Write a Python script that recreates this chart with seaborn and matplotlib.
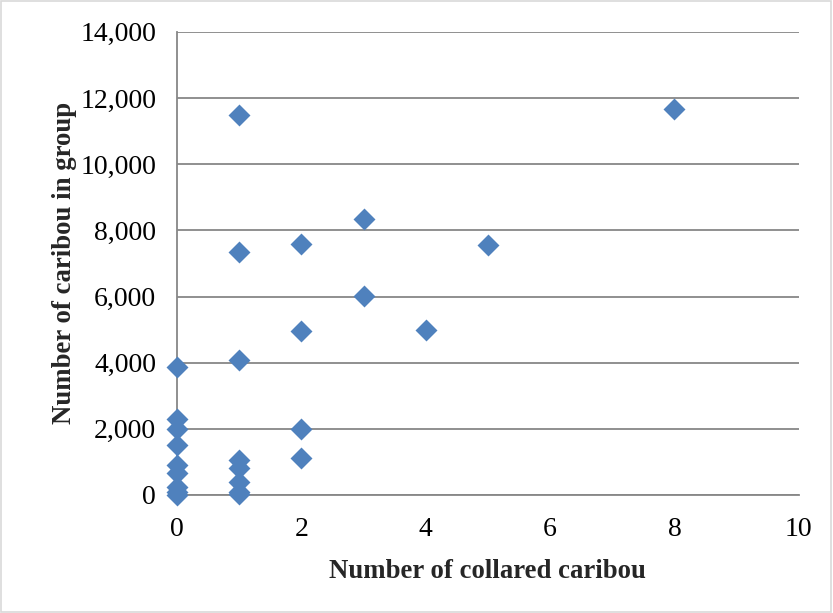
import matplotlib
matplotlib.use("Agg")
import matplotlib.pyplot as plt
import seaborn as sns
import pandas as pd
from matplotlib.patches import Rectangle
from matplotlib.ticker import FuncFormatter

# ---------------------------------------------------
# Data
# ---------------------------------------------------

collared = [0, 0, 0, 0, 0, 0, 0, 0, 0,
            1, 1, 1, 1, 1, 1, 1, 1,
            2, 2, 2, 2,
            3, 3, 4, 5, 8]

group_size = [3880, 2300, 2000, 1520, 920, 670, 250, 80, 0,
              11480, 7350, 4080, 1050, 820, 400, 100, 20,
              7600, 4950, 1980, 1120,
              8350, 6020, 5000, 7550, 11670]

x_ticks = [0, 2, 4, 6, 8, 10]
y_ticks = [0, 2000, 4000, 6000, 8000, 10000, 12000, 14000]

df = pd.DataFrame({"collared": collared, "group": group_size})

# ---------------------------------------------------
# Figure
# ---------------------------------------------------

sns.set_style("white")
plt.rcParams["font.family"] = ["Liberation Serif", "DejaVu Serif"]

fig = plt.figure(figsize=(8.33, 6.13), dpi=100)
ax = fig.add_axes([0.2125, 0.1925, 0.7465, 0.7555])

grid_color = "#878787"

ax.set_xlim(0, 10)
ax.set_ylim(0, 14000)
ax.set_xticks(x_ticks)
ax.set_yticks(y_ticks)
ax.yaxis.set_major_formatter(FuncFormatter(lambda v, p: f"{int(v):,}"))

ax.grid(axis="y", color=grid_color, linewidth=1.3)
ax.set_axisbelow(True)

sns.scatterplot(data=df, x="collared", y="group", marker="D", s=125,
                color="#4F81BD", edgecolor="#4F81BD", linewidth=0,
                ax=ax, clip_on=False, zorder=3)

for side in ["top", "right"]:
    ax.spines[side].set_visible(False)
for side in ["left", "bottom"]:
    ax.spines[side].set_color(grid_color)
    ax.spines[side].set_linewidth(1.3)

ax.tick_params(axis="both", direction="out", length=6, width=1.3,
               color=grid_color, labelsize=20, labelcolor="black")
ax.tick_params(axis="y", pad=9)
ax.tick_params(axis="x", pad=10)

ax.set_xlabel("Number of collared caribou", fontsize=19.3, fontweight="bold",
              labelpad=12)
ax.set_ylabel("Number of caribou in group", fontsize=19.3, fontweight="bold",
              labelpad=2)

# outer chart border
fig.patches.append(Rectangle((0.001, 0.002), 0.997, 0.996,
                             transform=fig.transFigure, fill=False,
                             edgecolor="#D9D9D9", linewidth=1.2))

fig.savefig("out.png", dpi=100)
